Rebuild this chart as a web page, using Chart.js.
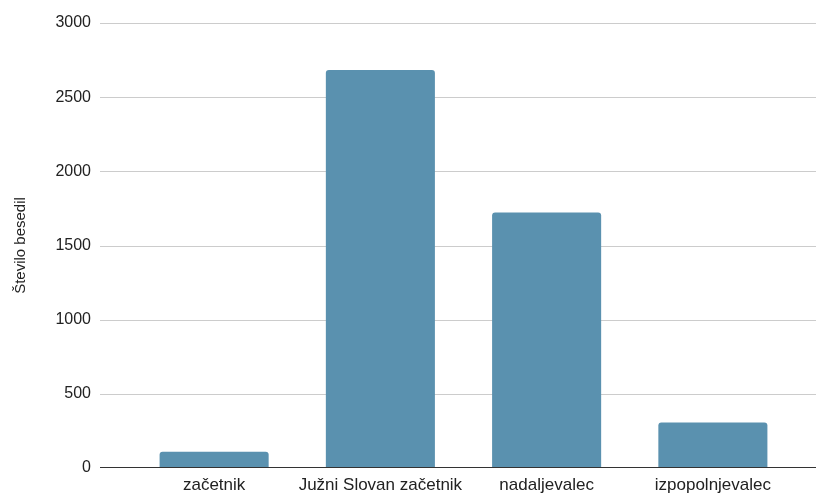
<!DOCTYPE html>
<html>
<head>
<meta charset="utf-8">
<script src="https://cdn.jsdelivr.net/npm/chart.js@4/dist/chart.umd.min.js"></script>
<style>
  html, body { margin: 0; padding: 0; background: #ffffff; }
  #wrap { width: 816px; height: 495px; position: relative; }
</style>
</head>
<body>
<div id="wrap"><canvas id="chart"></canvas></div>
<script>
// Število besedil po skupinah
const categories = ['začetnik', 'Južni Slovan začetnik', 'nadaljevalec', 'izpopolnjevalec'];
const counts = [110, 2683, 1723, 307];
const yTicks = [0, 500, 1000, 1500, 2000, 2500, 3000];

const FONT = '"Liberation Sans", Arial, sans-serif';
const BAR = '#5a91af';
const GRID_EXT = 31; // how far the grid lines reach left of the plot area

// Horizontal grid lines that run past the plot area, plus a dark baseline
const gridPlugin = {
  id: 'wideGrid',
  beforeDatasetsDraw(chart) {
    const y = chart.scales.y;
    const ctx = chart.ctx;
    const x0 = chart.chartArea.left - GRID_EXT;
    const x1 = chart.width;
    ctx.save();
    ctx.strokeStyle = '#cccccc';
    ctx.lineWidth = 1;
    yTicks.forEach(v => {
      if (v === 0) return;
      const py = Math.round(y.getPixelForValue(v)) + 0.5;
      ctx.beginPath();
      ctx.moveTo(x0, py);
      ctx.lineTo(x1, py);
      ctx.stroke();
    });
    ctx.restore();
  },
  afterDatasetsDraw(chart) {
    const y = chart.scales.y;
    const ctx = chart.ctx;
    const x0 = chart.chartArea.left - GRID_EXT;
    const x1 = chart.width;
    const py = Math.round(y.getPixelForValue(0)) - 0.5;
    ctx.save();
    ctx.strokeStyle = '#333333';
    ctx.lineWidth = 1;
    ctx.beginPath();
    ctx.moveTo(x0, py);
    ctx.lineTo(x1, py);
    ctx.stroke();
    ctx.restore();
  }
};

new Chart(document.getElementById('chart'), {
  type: 'bar',
  data: {
    labels: categories,
    datasets: [{
      data: counts,
      backgroundColor: BAR,
      borderRadius: { topLeft: 3, topRight: 3, bottomLeft: 0, bottomRight: 0 },
      borderSkipped: 'bottom',
      categoryPercentage: 1,
      barPercentage: 0.656
    }]
  },
  options: {
    responsive: true,
    maintainAspectRatio: false,
    animation: false,
    layout: { padding: { top: 23, right: 20, bottom: 0, left: 0 } },
    plugins: {
      legend: { display: false },
      tooltip: { enabled: false }
    },
    scales: {
      x: {
        afterFit(scale) {
          scale.height = 27;
        },
        grid: { display: false, drawTicks: false },
        border: { display: false },
        ticks: {
          color: '#222222',
          font: { family: FONT, size: 17 },
          padding: 7,
          maxRotation: 0,
          autoSkip: false
        }
      },
      y: {
        min: 0,
        max: 3000,
        afterBuildTicks(scale) {
          scale.ticks = yTicks.map(v => ({ value: v }));
        },
        afterFit(scale) {
          scale.width = 131;
        },
        grid: {
          display: true,
          color: 'rgba(0,0,0,0)',
          drawTicks: true,
          tickLength: GRID_EXT
        },
        border: { display: false },
        ticks: {
          color: '#222222',
          font: { family: FONT, size: 16 },
          padding: 9,
          callback: v => String(v)
        },
        title: {
          display: true,
          text: 'Število besedil',
          color: '#222222',
          font: { family: FONT, size: 15 },
          padding: { top: 12, bottom: 0 }
        }
      }
    }
  },
  plugins: [gridPlugin]
});
</script>
</body>
</html>
